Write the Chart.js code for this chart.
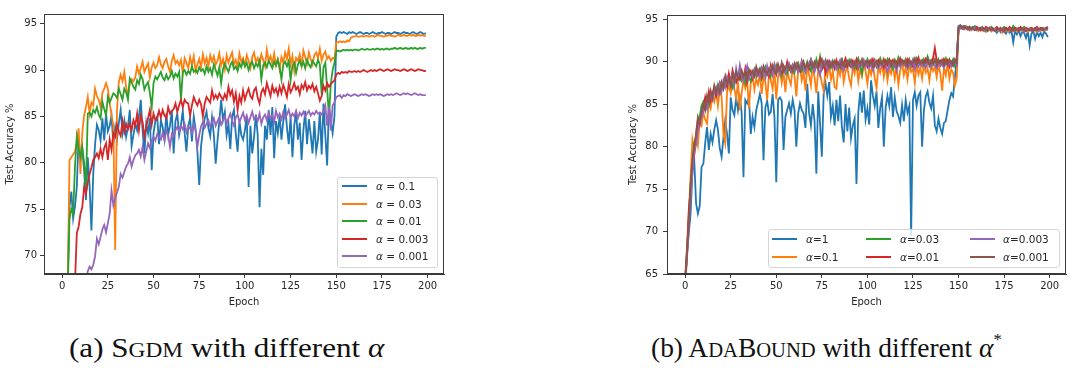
<!DOCTYPE html>
<html><head><meta charset="utf-8">
<script src="https://cdn.jsdelivr.net/npm/chart.js@4.4.0/dist/chart.umd.min.js"></script>
<style>
body{margin:0;width:1080px;height:372px;background:#fff;position:relative;overflow:hidden;font-family:'DejaVu Sans',sans-serif;}
.wrap{position:absolute;top:0;height:310px}
canvas{display:block}
.legend{position:absolute;border:1px solid #d6d6d6;border-radius:3px;background:rgba(255,255,255,0.8);box-sizing:border-box}
.item{position:absolute;font-size:10.5px;color:#262626;white-space:nowrap;line-height:14px}
.item i{font-style:italic}
.swatch{position:absolute;height:0;width:25px}
.cap{position:absolute;font-family:'Liberation Serif',serif;font-size:28px;line-height:28px;color:#111;white-space:nowrap;transform-origin:0 50%}
.sc{font-size:75%}
</style>
</head><body>
<div class="wrap" style="left:0;width:460px"><canvas id="ca" width="460" height="310"></canvas></div>
<div class="wrap" style="left:624px;width:456px"><canvas id="cb" width="456" height="310"></canvas></div>
<div class="cap" id="capA" style="left:69px;top:334px;transform:scaleX(1.11)">(a) S<span class="sc">GDM</span> with different <i>α</i></div>
<div class="cap" id="capB" style="left:651px;top:334px;transform:scaleX(0.98)">(b) A<span class="sc">DA</span>B<span class="sc">OUND</span> with different <i>α</i><sup style="font-size:60%;vertical-align:0.7em;line-height:0">*</sup></div>
<script>
// ---------- data ----------
const epochs = Array.from({length: 200}, (_, i) => i);
const xTicks = [0, 25, 50, 75, 100, 125, 150, 175, 200];
const yTicksA = [70, 75, 80, 85, 90, 95];
const yTicksB = [65, 70, 75, 80, 85, 90, 95];
const namesA = ['α = 0.1', 'α = 0.03', 'α = 0.01', 'α = 0.003', 'α = 0.001'];
const namesB = ['α=1', 'α=0.1', 'α=0.03', 'α=0.01', 'α=0.003', 'α=0.001'];
const colors = ['#1f77b4', '#ff7f0e', '#2ca02c', '#d62728', '#9467bd', '#8c564b'];

// (a) SGDM
const sgdm_01 = [
45,55,62,67,75.3,76.9,74.0,75.3,77.4,82.8,
80.6,81.4,79.2,76.0,80.6,77.5,72.7,78.8,82.0,84.1,
83.5,82.4,84.8,82.4,85.3,83.4,84.0,85.1,82.0,83.8,
82.5,84.3,85.7,83.2,84.5,82.8,83.9,85.7,81.8,83.0,
84.2,83.5,85.0,86.8,83.5,81.0,84.3,83.2,84.8,79.2,
83.2,84.5,85.0,82.0,84.6,83.8,82.5,85.3,83.0,84.0,
85.7,81.0,84.5,85.3,83.0,84.1,85.6,83.2,81.2,84.0,
84.8,82.3,85.0,83.6,81.2,77.6,81.8,83.5,84.8,85.5,
83.8,82.9,84.9,83.0,79.9,82.4,84.5,86.8,84.6,85.5,
83.0,84.2,81.5,85.0,85.7,83.1,81.2,84.5,83.0,82.5,
83.5,85.0,77.4,84.0,81.0,82.8,85.2,83.0,75.2,81.5,
78.7,84.0,82.5,85.7,83.0,86.0,80.5,84.5,83.2,85.0,
82.5,84.5,86.3,83.8,82.0,85.0,80.6,84.0,85.5,82.5,
84.3,80.3,83.5,85.6,82.0,84.7,83.0,81.0,84.5,81.2,
82.5,85.5,80.9,86.4,83.0,79.7,86.2,84.5,83.2,85.0,
93.6,94.0,94.1,94.0,94.1,94.0,93.9,94.1,94.0,94.1,
94.0,93.9,94.0,94.1,94.0,93.9,94.0,94.0,93.9,94.0,
94.1,94.0,93.9,94.0,94.0,94.1,94.0,93.9,94.0,94.0,
93.9,94.0,94.1,94.0,94.0,93.9,94.0,94.1,94.0,94.0,
93.9,94.0,94.1,94.0,93.9,94.0,94.1,94.0,93.9,94.0];
const sgdm_003 = [
40,50,58,66,80.3,80.6,80.9,81.2,82.3,83.7,
78.8,83.2,85.1,86.0,87.1,85.3,86.5,86.2,88.0,87.2,
86.8,86.0,87.5,88.0,88.6,88.0,86.4,85.1,84.0,70.6,
85.7,88.7,89.5,88.8,89.8,88.2,87.2,88.5,89.0,88.8,
89.2,90.4,89.6,90.2,90.9,89.8,90.3,90.7,89.2,90.3,
90.8,90.2,90.5,91.4,90.6,90.2,90.9,91.2,90.4,89.8,
91.0,91.6,90.7,91.0,90.5,91.1,89.7,91.3,90.8,90.2,
91.4,90.5,91.5,89.9,90.6,91.2,90.3,91.7,90.7,91.3,
90.4,91.6,90.9,91.5,90.6,91.0,91.8,90.5,91.2,90.1,
91.6,90.8,91.4,91.9,90.6,91.1,90.3,91.8,90.9,91.3,
90.5,91.6,91.0,90.2,91.4,91.9,90.8,91.3,90.6,91.7,
91.1,90.4,92.2,91.0,91.5,90.7,91.8,90.5,91.2,90.1,
91.4,90.8,91.9,91.2,92.3,90.6,91.5,89.9,91.3,91.0,
91.7,90.5,92.1,91.4,90.7,91.9,91.2,90.6,91.6,91.9,
91.3,92.3,91.0,91.7,92.0,91.2,91.5,91.0,91.3,91.2,
93.0,93.0,93.1,93.0,93.1,93.0,93.2,93.1,93.5,93.6,
93.6,93.7,93.6,93.6,93.7,93.6,93.7,93.7,93.6,93.7,
93.7,93.6,93.7,93.8,93.7,93.7,93.6,93.7,93.7,93.8,
93.7,93.7,93.6,93.7,93.8,93.7,93.7,93.8,93.7,93.7,
93.8,93.7,93.8,93.7,93.7,93.8,93.7,93.8,93.7,93.7];
const sgdm_001 = [
38,48,57,66,74.0,75.0,74.5,79.6,82.8,81.5,
80.6,81.7,80.0,77.4,85.3,85.4,85.0,85.7,85.4,86.0,
85.2,84.8,86.6,85.8,85.1,87.1,86.5,87.0,87.5,87.3,
87.0,88.0,87.4,86.8,88.0,87.6,86.8,89.1,88.7,88.2,
87.9,88.9,88.5,89.5,89.0,87.9,88.4,88.7,87.5,86.0,
88.6,89.3,89.0,89.4,89.8,89.2,88.9,89.5,89.0,89.3,
89.9,89.1,89.6,89.3,89.8,86.8,89.8,90.0,89.5,89.9,
89.6,90.4,89.8,90.0,89.7,90.3,89.9,90.1,89.6,90.4,
89.8,90.2,89.5,90.6,90.0,89.4,90.3,88.6,90.1,90.7,
90.2,89.8,90.5,90.9,90.1,90.4,89.9,90.7,90.3,91.0,
90.4,90.8,90.0,90.6,90.9,90.2,90.7,90.4,91.0,89.0,
90.5,90.8,90.3,91.0,90.6,90.2,90.9,90.5,91.1,90.3,
89.0,90.6,90.9,90.4,91.0,88.9,90.5,90.8,89.7,90.6,
91.0,90.4,90.9,90.2,91.1,90.6,90.3,91.0,90.7,90.4,
91.1,90.6,87.4,90.3,90.8,88.0,85.0,88.5,90.0,90.8,
92.0,92.1,92.0,92.1,92.2,92.1,92.2,92.1,92.2,92.1,
92.2,92.2,92.1,92.2,92.3,92.2,92.2,92.3,92.2,92.2,
92.3,92.2,92.3,92.3,92.2,92.3,92.2,92.3,92.3,92.2,
92.3,92.3,92.4,92.3,92.3,92.4,92.3,92.3,92.4,92.3,
92.3,92.4,92.3,92.4,92.3,92.3,92.4,92.3,92.4,92.4];
const sgdm_0003 = [
30,38,45,52,57,61,64,67,72.4,73.1,
74.5,75.2,77.4,76.7,77.8,78.8,79.5,80.3,80.6,81.0,
80.5,81.5,80.6,81.6,82.1,80.3,82.5,81.4,83.2,82.8,
84.1,83.4,82.9,84.5,83.3,84.2,83.6,84.2,83.5,84.6,
84.0,85.3,83.5,85.1,84.4,82.8,83.9,84.8,85.7,84.1,
85.3,84.6,84.8,85.6,84.9,85.7,85.1,84.8,86.0,85.3,
85.6,85.8,86.4,85.5,86.2,86.8,86.0,86.8,86.5,86.4,
85.1,86.2,87.1,86.6,86.2,86.8,86.3,85.0,86.4,87.1,
86.8,86.5,87.8,86.9,87.3,86.9,87.5,87.1,86.8,87.4,
86.9,88.2,87.3,87.8,86.6,87.5,85.7,87.2,86.5,87.8,
86.8,87.5,88.0,87.2,86.9,87.8,88.1,87.0,86.4,87.6,
88.0,87.4,88.6,87.9,87.2,88.3,87.6,88.0,87.3,88.2,
87.5,88.4,87.8,87.1,88.5,87.6,88.0,88.6,87.9,88.2,
87.4,88.4,88.0,88.7,87.8,88.3,88.0,88.5,87.7,88.2,
87.5,86.7,87.2,88.3,87.8,88.6,88.2,88.5,88.7,88.9,
89.5,89.7,89.6,89.8,89.7,89.8,89.7,89.9,89.8,89.8,
89.9,89.8,89.9,89.8,89.9,90.0,89.9,89.8,89.9,90.0,
89.9,90.0,89.9,90.0,90.1,90.0,89.9,90.0,90.1,90.0,
89.9,90.0,90.1,90.0,90.0,89.9,90.0,90.1,90.0,89.9,
90.0,90.1,90.0,89.9,90.0,90.1,90.0,90.0,89.9,89.9];
const sgdm_0001 = [
20,25,30,35,40,45,50,54,57,60,
62,64,65.5,67,68.3,68.8,68.5,69.0,69.9,71.8,
71.2,72.0,72.8,73.3,72.5,73.5,74.5,77.0,75.4,76.2,
76.8,77.4,78.8,78.4,79.0,79.6,79.9,80.6,79.6,80.3,
80.8,81.0,81.4,80.7,81.7,80.3,81.2,82.1,81.6,82.4,
82.8,82.4,83.1,82.8,82.5,83.2,82.4,83.5,83.0,81.7,
83.1,82.8,83.5,83.9,83.4,84.0,83.6,84.2,83.3,83.9,
83.7,83.2,84.1,83.5,81.7,83.0,83.9,84.4,83.8,84.2,
84.6,83.9,84.3,84.8,84.0,84.5,84.9,84.1,84.6,85.0,
84.2,84.8,85.3,84.5,84.0,84.9,85.2,84.4,84.9,85.4,
84.6,85.1,84.3,84.9,85.5,84.7,85.0,84.5,85.3,84.2,
84.9,85.2,84.6,85.4,84.8,85.1,84.4,85.6,84.9,85.3,
84.7,85.5,84.8,85.2,85.7,84.9,85.3,85.0,85.6,84.8,
85.4,85.1,85.5,85.0,85.3,85.6,85.1,85.4,85.2,85.6,
85.3,85.4,85.2,85.6,86.2,84.0,86.0,83.5,86.2,86.5,
87.1,87.2,87.3,87.0,87.3,87.2,87.4,87.3,87.2,87.3,
87.4,87.3,87.2,87.3,87.4,87.3,87.4,87.3,87.2,87.3,
87.4,87.3,87.4,87.3,87.4,87.3,87.2,87.3,87.4,87.3,
87.4,87.3,87.4,87.5,87.4,87.3,87.4,87.5,87.4,87.5,
87.4,87.3,87.4,87.5,87.4,87.3,87.4,87.3,87.3,87.3];

// (b) AdaBound
const ada_1 = [
64.0,67.4,69.8,72.1,77.2,78.4,73.3,72.1,73.0,77.6,
78.0,80.4,82.3,79.6,81.5,80.5,82.0,83.1,82.0,79.8,
78.8,81.0,83.1,81.5,79.2,85.8,84.3,83.7,85.8,84.3,
85.8,84.0,76.4,85.5,85.1,85.8,81.5,83.5,82.3,84.3,
85.2,86.2,85.1,78.4,84.6,85.4,83.8,84.1,86.2,83.5,
75.8,85.5,85.8,85.4,79.6,83.5,84.3,85.1,83.9,85.5,
84.3,80.0,83.9,85.1,84.3,83.9,82.2,87.4,84.0,82.5,
85.0,83.0,76.8,86.5,82.8,78.8,86.2,87.5,86.0,87.6,
83.5,84.8,82.5,85.5,83.0,86.0,82.3,80.5,85.0,81.8,
84.6,81.0,82.5,83.3,75.6,84.0,86.4,84.0,86.6,83.2,
84.5,82.6,87.8,86.0,84.8,86.5,82.2,84.5,85.8,80.0,
84.6,86.0,84.8,87.0,83.5,85.8,84.2,83.6,82.8,84.9,
83.0,85.5,84.0,84.8,69.5,85.5,86.4,84.8,86.0,86.4,
80.0,84.3,85.9,86.5,85.2,84.5,86.0,82.5,81.8,83.3,
82.2,81.5,82.8,83.0,84.3,85.5,86.3,85.9,88.2,90.2,
94.2,94.3,94.1,94.2,94.0,94.1,93.9,94.0,94.1,93.9,
94.0,93.8,93.9,94.0,93.7,93.9,93.8,94.0,93.6,93.9,
93.7,93.4,93.8,93.5,93.9,93.6,93.3,93.8,93.4,93.7,
92.3,93.6,93.2,93.7,93.0,93.5,93.4,92.8,93.6,91.9,
93.3,93.6,92.7,93.5,93.0,93.4,92.9,93.6,93.3,92.9];
const ada_01 = [
63.5,67.0,72.0,76.5,80.8,79.5,81.5,80.2,83.0,82.5,
84.0,83.2,82.7,85.2,84.5,86.0,85.3,86.5,84.8,86.8,
85.9,81.5,80.4,86.5,87.2,86.3,87.5,86.8,85.7,87.6,
84.3,86.3,87.8,86.9,88.0,84.5,87.5,88.3,86.7,88.0,
87.3,88.5,86.2,88.3,87.6,85.5,88.6,87.9,86.8,88.9,
85.6,88.2,89.0,87.5,88.7,86.4,89.1,88.0,87.3,89.2,
88.4,85.9,88.9,89.3,87.8,88.8,86.6,89.4,88.5,87.2,
89.5,88.1,86.3,89.0,88.6,87.5,86.6,89.2,88.3,89.6,
87.9,88.9,87.0,86.8,89.3,88.4,89.7,87.6,88.8,89.4,
88.0,87.2,89.5,88.6,89.8,87.7,89.1,88.3,89.6,88.9,
87.4,89.3,88.5,89.8,88.1,86.9,89.4,88.7,89.9,88.2,
89.5,87.8,89.2,88.6,89.7,88.0,89.4,87.3,89.0,89.8,
88.4,89.3,87.9,89.6,88.8,89.1,87.5,89.7,88.5,89.3,
88.0,89.6,88.7,89.2,87.8,89.5,88.9,89.4,88.2,89.7,
88.6,86.6,89.3,88.4,89.8,88.0,89.1,88.7,87.2,88.0,
93.8,94.1,94.0,93.9,94.1,93.8,94.0,93.7,93.9,94.0,
93.8,93.6,93.9,93.7,93.8,93.5,93.8,93.9,93.6,93.8,
93.7,93.9,93.6,93.8,93.4,93.7,93.8,93.5,93.7,93.9,
93.6,93.8,93.5,93.7,93.9,93.6,93.8,93.7,93.5,93.8,
93.6,93.9,93.7,93.5,93.8,93.6,93.9,93.7,93.8,93.9];
const ada_003 = [
64.0,67.5,71.5,75.5,78.0,80.5,81.0,82.5,83.5,84.8,
85.3,84.6,85.5,84.9,86.2,85.7,86.9,86.1,87.3,86.6,
87.5,86.8,87.9,87.2,88.1,87.4,86.9,88.3,87.6,88.0,
88.6,87.8,88.4,87.5,88.9,88.2,87.7,88.6,89.1,88.3,
88.8,89.2,88.0,88.7,89.4,88.5,89.0,88.3,89.3,88.8,
89.6,88.9,89.2,88.4,89.5,89.0,88.6,89.7,89.1,89.4,
88.7,89.5,89.9,89.2,88.8,89.6,89.3,90.0,89.4,88.9,
89.8,89.2,90.3,89.5,90.6,89.1,89.7,90.2,89.4,89.9,
89.3,90.1,89.6,90.0,89.2,89.8,90.3,89.5,89.9,89.4,
90.2,89.7,90.0,89.3,89.9,90.4,89.6,88.6,90.1,89.8,
90.3,89.5,90.0,89.7,90.2,89.4,89.9,90.4,89.6,90.1,
89.8,90.3,89.5,90.0,89.2,90.2,89.7,90.5,89.9,90.1,
89.6,90.3,89.8,90.0,89.4,90.2,89.7,90.4,89.9,90.1,
89.5,90.3,89.8,90.6,89.9,90.2,89.6,90.1,89.8,90.3,
89.7,90.2,89.9,90.4,89.6,90.1,89.8,90.3,89.5,90.0,
93.9,94.2,94.1,94.0,94.2,93.9,94.1,93.8,94.0,94.2,
93.9,94.0,93.8,94.1,93.9,93.7,94.0,93.8,94.1,93.9,
93.8,94.0,93.7,93.9,93.8,94.1,93.9,93.7,94.0,93.8,
94.2,93.9,93.8,94.0,93.7,93.9,94.1,93.8,93.9,93.7,
93.9,93.8,94.0,93.7,93.9,93.8,94.0,93.9,93.8,94.0];
const ada_001 = [
64.5,68.0,72.5,75.0,77.5,79.0,80.8,83.2,82.6,83.8,
84.5,85.8,84.9,86.5,85.4,86.2,87.0,86.0,86.8,87.5,
86.7,87.3,88.0,87.1,88.6,87.5,89.0,88.2,87.6,88.4,
87.9,88.8,88.1,89.2,87.6,88.5,88.9,88.0,88.7,89.3,
88.4,88.9,88.2,89.4,88.6,89.0,88.3,89.6,88.8,89.1,
88.5,89.7,89.0,88.7,89.5,88.9,90.0,89.2,88.8,89.6,
89.1,89.8,89.3,88.9,90.1,89.5,89.0,89.7,89.3,90.2,
89.6,89.0,89.8,89.4,90.3,89.2,89.9,88.7,89.7,90.1,
89.5,89.9,89.2,90.2,89.6,90.0,89.3,89.8,90.4,89.5,
89.9,89.4,90.1,89.7,90.3,89.2,89.8,90.2,89.6,90.0,
89.4,90.1,89.8,90.3,89.5,89.9,90.2,89.7,90.0,89.3,
90.1,89.6,90.3,89.9,90.2,89.5,90.0,89.7,90.4,89.8,
90.1,89.6,90.3,89.8,90.0,89.4,90.2,89.9,90.5,89.7,
90.0,89.6,90.3,89.8,90.1,89.5,90.4,91.6,90.2,89.8,
90.1,89.6,90.3,89.9,90.2,89.4,90.0,89.7,90.3,89.8,
94.0,94.1,93.9,94.2,94.0,93.8,94.1,93.9,94.0,93.8,
94.1,93.9,93.7,94.0,93.8,94.1,93.9,93.8,94.0,93.7,
93.9,94.1,93.8,94.0,93.7,93.9,94.0,93.8,94.1,93.9,
93.7,94.0,93.9,93.8,94.1,93.9,93.7,94.0,93.8,93.9,
94.0,93.8,93.9,94.1,93.8,94.0,93.9,93.8,94.0,94.1];
const ada_0003 = [
63.8,66.8,70.5,74.0,77.0,79.5,80.2,81.8,82.9,83.4,
84.1,85.0,84.4,85.6,86.3,85.5,86.4,87.0,86.2,87.4,
86.5,87.8,87.0,88.2,87.4,87.9,88.6,87.3,89.2,88.1,
89.6,88.3,87.7,88.8,89.5,88.0,88.6,88.2,89.1,88.5,
89.0,88.2,89.3,88.7,88.1,89.5,88.6,89.2,88.4,89.7,
88.8,89.3,88.5,89.9,89.1,88.6,89.4,89.8,88.9,89.5,
89.0,89.6,88.8,89.3,90.0,89.2,88.7,89.5,89.9,90.3,
89.3,88.8,89.7,89.2,88.4,89.8,89.4,90.1,89.0,89.6,
90.0,89.3,89.8,89.1,89.6,90.2,89.4,88.9,89.7,90.1,
89.5,89.8,89.2,90.0,89.6,89.3,89.9,89.5,90.2,89.4,
89.9,89.3,89.7,89.0,90.1,89.6,89.2,89.8,89.4,90.0,
89.5,88.8,89.7,89.3,89.9,89.6,88.9,89.8,89.4,90.1,
89.6,89.9,89.2,89.7,89.5,90.2,89.1,89.8,89.4,90.0,
89.5,89.8,89.3,89.7,90.0,89.4,89.9,89.6,89.2,89.8,
89.5,90.0,89.3,89.8,89.6,89.9,89.4,89.7,90.1,89.6,
94.1,93.9,94.0,93.8,94.1,93.9,93.7,94.0,93.8,94.0,
93.7,93.9,94.0,93.8,93.6,93.9,93.7,94.0,93.8,93.7,
93.9,93.6,93.8,93.7,93.9,93.5,93.8,93.7,93.9,93.6,
93.8,93.7,93.9,93.6,93.8,93.7,93.5,93.8,93.7,93.9,
93.6,93.8,93.7,93.9,93.6,93.8,93.7,93.9,93.8,93.7];
const ada_0001 = [
64.2,67.2,71.0,75.5,78.5,80.0,81.5,83.5,82.8,84.2,
85.0,84.3,86.0,85.2,86.6,85.8,87.2,86.4,87.0,86.3,
87.6,86.9,88.3,87.4,88.0,87.2,88.5,87.8,88.8,87.9,
88.4,89.0,88.2,88.7,87.9,89.1,88.5,88.9,88.3,89.4,
88.6,89.1,88.4,89.3,88.9,88.5,89.2,88.7,89.6,89.0,
88.6,89.4,89.0,89.8,88.9,89.3,89.7,89.1,89.5,88.9,
89.8,89.2,89.6,89.0,89.4,90.0,89.3,89.7,89.1,89.9,
89.4,90.0,89.5,89.1,89.8,90.3,89.4,89.7,90.1,89.3,
89.8,89.5,90.1,89.6,89.9,89.3,90.2,89.7,89.4,90.0,
89.6,90.2,89.5,89.9,89.3,90.1,89.7,90.3,89.5,89.8,
90.0,89.6,90.2,89.4,89.8,90.1,89.5,90.0,89.7,90.3,
89.6,89.9,90.2,89.5,89.8,90.1,89.4,90.0,89.7,90.2,
89.8,90.0,89.5,90.3,89.7,89.9,90.4,89.6,90.0,89.8,
90.2,89.7,89.9,90.4,89.5,90.0,89.8,90.3,89.6,90.1,
89.8,90.2,89.6,90.0,89.7,90.3,89.9,89.5,90.2,89.9,
94.0,94.2,93.9,94.1,93.9,94.0,93.8,94.0,93.9,93.7,
93.9,93.8,94.0,93.7,93.9,93.8,93.6,93.9,93.7,93.8,
93.6,93.8,93.9,93.7,93.8,93.6,93.9,93.7,93.8,93.6,
93.9,93.7,93.8,93.6,93.8,93.9,93.7,93.6,93.8,93.7,
93.8,93.6,93.9,93.7,93.8,93.9,93.7,93.8,93.9,94.0];

const seriesA = [sgdm_01, sgdm_003, sgdm_001, sgdm_0003, sgdm_0001];
const seriesB = [ada_1, ada_01, ada_003, ada_001, ada_0003, ada_0001];

// ---------- drawing ----------
const TXT = '#262626', AX = '#3a3a3a';
const frame = {
  id: 'frame',
  afterDatasetsDraw(chart) {
    const {ctx, chartArea: a} = chart;
    ctx.save();
    ctx.strokeStyle = AX; ctx.lineWidth = 1;
    ctx.strokeRect(Math.round(a.left) + 0.5, Math.round(a.top) + 0.5,
                   Math.round(a.right) - Math.round(a.left) - 1, Math.round(a.bottom) - Math.round(a.top) - 1);
    ctx.restore();
  }
};

function build(id, names, series, cfg) {
  const n = series.length;
  const datasets = series.map((s, k) => ({
    label: names[k],
    data: s.map((v, i) => ({x: epochs[i], y: v})),
    borderColor: colors[k], backgroundColor: colors[k],
    borderWidth: 1.8, pointRadius: 0, tension: 0, fill: false,
    order: n - 1 - k
  }));
  const font = {family: 'DejaVu Sans', size: 10};
  return new Chart(document.getElementById(id), {
    type: 'line',
    data: {datasets},
    options: {
      responsive: false, animation: false, events: [],
      layout: {padding: {top: cfg.padTop, right: cfg.padRight, left: 0, bottom: 0}},
      plugins: {legend: {display: false}, tooltip: {enabled: false}},
      scales: {
        x: {
          type: 'linear', min: -9.95, max: 208.95,
          afterBuildTicks: s => { s.ticks = xTicks.map(v => ({value: v})); },
          afterFit: s => { s.height = 36; },
          grid: {drawOnChartArea: false, tickLength: 4, color: AX},
          border: {display: true, color: AX},
          ticks: {font, color: TXT, padding: 2, maxRotation: 0, autoSkip: false},
          title: {display: true, text: 'Epoch', font, color: TXT, padding: {top: 0, bottom: 2}}
        },
        y: {
          type: 'linear', min: cfg.yMin, max: cfg.yMax,
          afterBuildTicks: s => { s.ticks = cfg.yTicks.map(v => ({value: v})); },
          afterFit: s => { s.width = cfg.yW; },
          grid: {drawOnChartArea: false, tickLength: 4, color: AX},
          border: {display: true, color: AX},
          ticks: {font, color: TXT, padding: cfg.tickPad, autoSkip: false},
          title: {display: true, text: 'Test Accuracy %', font, color: TXT, padding: {top: cfg.titlePad, bottom: 0}}
        }
      }
    },
    plugins: [frame]
  });
}

build('ca', namesA, seriesA, {yMin: 68, yMax: 96.05, yTicks: yTicksA, yW: 44, tickPad: 3, titlePad: 4, padTop: 14, padRight: 16});
build('cb', namesB, seriesB, {yMin: 65, yMax: 95.5, yTicks: yTicksB, yW: 43, tickPad: 5, titlePad: 3, padTop: 15, padRight: 14});

// ---------- legends (HTML text) ----------
function makeLegend(box, names, pos) {
  const el = document.createElement('div');
  el.className = 'legend';
  Object.assign(el.style, {left: box[0] + 'px', top: box[1] + 'px', width: box[2] + 'px', height: box[3] + 'px'});
  document.body.appendChild(el);
  names.forEach((nm, k) => {
    const [sx, tx, cy] = pos[k];
    const sw = document.createElement('div');
    sw.className = 'swatch';
    sw.style.left = sx + 'px'; sw.style.top = (cy - 1) + 'px';
    sw.style.borderTop = '2px solid ' + colors[k];
    const t = document.createElement('div');
    t.className = 'item';
    t.style.left = tx + 'px'; t.style.top = (cy - 7) + 'px';
    t.innerHTML = nm.replace('α', '<i>α</i>');
    document.body.appendChild(sw);
    document.body.appendChild(t);
  });
}
makeLegend([337, 177, 101, 91], namesA,
  [[342, 376, 186], [342, 376, 203.5], [342, 376, 221], [342, 376, 238.5], [342, 376, 256]]);
makeLegend([768, 229, 292, 39], namesB,
  [[772, 806, 238.5], [772, 806, 256.5], [866, 900, 238.5], [866, 900, 256.5], [970, 1003, 238.5], [970, 1003, 256.5]]);
</script>
</body></html>
